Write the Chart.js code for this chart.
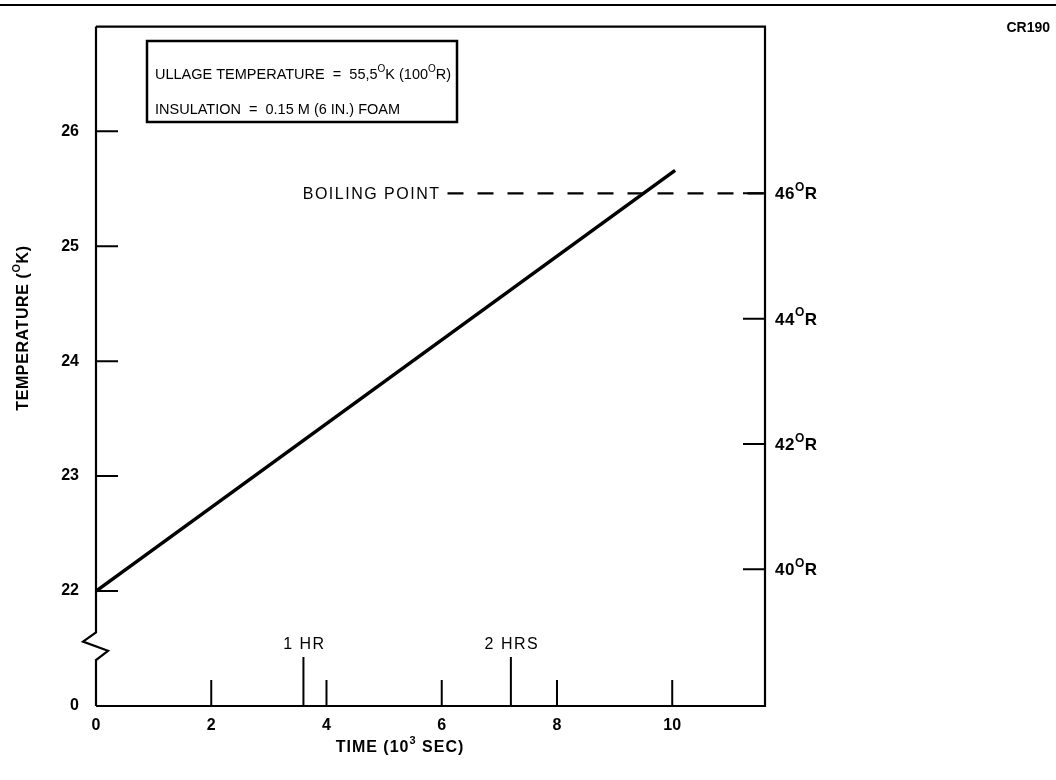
<!DOCTYPE html>
<html>
<head>
<meta charset="utf-8">
<script src="https://cdn.jsdelivr.net/npm/chart.js@4.4.1/dist/chart.umd.min.js"></script>
<style>
html, body { margin: 0; padding: 0; background: #fff; }
</style>
</head>
<body>
<canvas id="canvas" width="1056" height="780"></canvas>
<script>
// data (time in 10^3 sec, temperature in K)
var timeSec = [0, 10.05];
var tempK = [22, 25.66];
// boiling point dashed line, in deg R on the right axis
var boilTime = [6.1, 11.61];
var boilR = [46, 46];

var xTicks = [0, 2, 4, 6, 8, 10];
var yTicks = [21, 22, 23, 24, 25, 26];
var yTickLabels = ["0", "22", "23", "24", "25", "26"];   // axis is broken below 22
var rTicks = [40, 42, 44, 46];
var hourMarks = [3.6, 7.2];
var hourLabels = ["1 HR", "2 HRS"];

var FONT = "'Liberation Sans', Arial, Helvetica, sans-serif";

// draws text with superscript pieces, parts = [[text, isSup], ...]
function richText(ctx, parts, x, y, size, weight, align, spacing){
	var base = weight + " " + size + "px " + FONT;
	var sup = weight + " " + Math.round(size * 0.68) + "px " + FONT;
	ctx.letterSpacing = (spacing || 0) + "px";
	var w = 0;
	for(var i = 0; i < parts.length; i++){
		ctx.font = parts[i][1] ? sup : base;
		w += ctx.measureText(parts[i][0]).width;
	}
	var cx = x;
	if(align == "center"){ cx = x - w / 2; }
	if(align == "right"){ cx = x - w; }
	ctx.textAlign = "left";
	ctx.textBaseline = "alphabetic";
	for(var j = 0; j < parts.length; j++){
		ctx.font = parts[j][1] ? sup : base;
		ctx.fillText(parts[j][0], cx, parts[j][1] ? y - size * 0.5 : y);
		cx += ctx.measureText(parts[j][0]).width;
	}
	ctx.letterSpacing = "0px";
}

var decor = {
	id: "decor",
	afterDraw: function(chart){
		var ctx = chart.ctx;
		var a = chart.chartArea;
		var sx = chart.scales.x, sy = chart.scales.y, sr = chart.scales.y2;
		ctx.save();
		ctx.strokeStyle = "#000";
		ctx.fillStyle = "#000";
		ctx.lineCap = "butt";

		// page rule at the very top
		ctx.lineWidth = 2;
		ctx.beginPath(); ctx.moveTo(0, 5); ctx.lineTo(1056, 5); ctx.stroke();

		// frame: top, right, bottom
		ctx.lineWidth = 2.2;
		ctx.beginPath();
		ctx.moveTo(a.left, a.top); ctx.lineTo(a.right, a.top);
		ctx.lineTo(a.right, a.bottom); ctx.lineTo(a.left, a.bottom);
		ctx.stroke();

		// left axis with the break zigzag
		var L = a.left;
		ctx.beginPath();
		ctx.moveTo(L, a.top);
		ctx.lineTo(L, sy.getPixelForValue(21.64));
		ctx.lineTo(L - 13, sy.getPixelForValue(21.56));
		ctx.lineTo(L + 12, sy.getPixelForValue(21.48));
		ctx.lineTo(L, sy.getPixelForValue(21.40));
		ctx.lineTo(L, a.bottom);
		ctx.stroke();

		// inward tick marks
		ctx.lineWidth = 2;
		ctx.beginPath();
		for(var i = 1; i < yTicks.length; i++){
			var py = sy.getPixelForValue(yTicks[i]);
			ctx.moveTo(L, py); ctx.lineTo(L + 22, py);
		}
		for(var k = 0; k < rTicks.length; k++){
			var pr = sr.getPixelForValue(rTicks[k]);
			ctx.moveTo(a.right, pr); ctx.lineTo(a.right - 22, pr);
		}
		for(var m = 1; m < xTicks.length; m++){
			var px = sx.getPixelForValue(xTicks[m]);
			ctx.moveTo(px, a.bottom); ctx.lineTo(px, a.bottom - 26);
		}
		for(var h = 0; h < hourMarks.length; h++){
			var ph = sx.getPixelForValue(hourMarks[h]);
			ctx.moveTo(ph, a.bottom); ctx.lineTo(ph, a.bottom - 49);
		}
		ctx.stroke();

		// hour labels
		for(var n = 0; n < hourMarks.length; n++){
			richText(ctx, [[hourLabels[n], false]], sx.getPixelForValue(hourMarks[n]) + 1, a.bottom - 57, 16, "normal", "center", 1.5);
		}

		// right axis labels in deg R
		for(var r = 0; r < rTicks.length; r++){
			var yy = sr.getPixelForValue(rTicks[r]) + 6;
			richText(ctx, [[String(rTicks[r]), false], ["O", true], ["R", false]], a.right + 10, yy, 17, "bold", "left", 0.5);
		}

		// boiling point label
		var by = sr.getPixelForValue(boilR[0]);
		richText(ctx, [["BOILING POINT", false]], sx.getPixelForValue(boilTime[0]) - 7, by + 6, 16, "normal", "right", 1.5);

		// annotation box
		ctx.lineWidth = 2.5;
		ctx.strokeRect(147, 41, 310, 81);
		richText(ctx, [["ULLAGE TEMPERATURE  =  55,5", false], ["O", true], ["K (100", false], ["O", true], ["R)", false]], 155, 79, 14.5, "normal", "left", 0);
		richText(ctx, [["INSULATION  =  0.15 M (6 IN.) FOAM", false]], 155, 114, 14.5, "normal", "left", 0);

		// axis titles
		richText(ctx, [["TIME (10", false], ["3", true], [" SEC)", false]], 400, 752, 16, "bold", "center", 1);
		ctx.save();
		ctx.translate(28, 328);
		ctx.rotate(-Math.PI / 2);
		richText(ctx, [["TEMPERATURE (", false], ["O", true], ["K)", false]], 0, 0, 16, "bold", "center", 0.6);
		ctx.restore();

		// figure code
		richText(ctx, [["CR190", false]], 1050, 32, 14, "bold", "right", 0);
		ctx.restore();
	}
};

var lineData = [];
for(var i = 0; i < timeSec.length; i++){ lineData.push({x: timeSec[i], y: tempK[i]}); }
var boilData = [];
for(var j = 0; j < boilTime.length; j++){ boilData.push({x: boilTime[j], y: boilR[j]}); }

var canvas = document.getElementById("canvas");
var ctx = canvas.getContext("2d");
var chart = new Chart(ctx, {
	type: "line",
	data: {
		datasets: [
			{ data: lineData, borderColor: "#000", borderWidth: 3.5, pointRadius: 0, tension: 0, yAxisID: "y" },
			{ data: boilData, borderColor: "#000", borderWidth: 2.2, borderDash: [16, 14], pointRadius: 0, tension: 0, yAxisID: "y2" }
		]
	},
	options: {
		responsive: false,
		animation: false,
		devicePixelRatio: 1,
		layout: { padding: { top: 25, left: 0, right: 0, bottom: 0 } },
		plugins: { legend: { display: false }, tooltip: { enabled: false } },
		scales: {
			x: {
				type: "linear", min: 0, max: 11.61, position: "bottom",
				afterBuildTicks: function(s){ s.ticks = xTicks.map(function(v){ return {value: v}; }); },
				afterFit: function(s){ s.height = 74; },
				grid: { display: false, drawTicks: false },
				border: { display: false },
				ticks: { color: "#000", padding: 10, maxRotation: 0, font: { family: FONT, size: 16, weight: "bold" } }
			},
			y: {
				type: "linear", min: 21, max: 26.91, position: "left",
				afterBuildTicks: function(s){ s.ticks = yTicks.map(function(v){ return {value: v}; }); },
				afterFit: function(s){ s.width = 96; },
				grid: { display: false, drawTicks: false },
				border: { display: false },
				ticks: {
					color: "#000", padding: 17, font: { family: FONT, size: 16, weight: "bold" },
					callback: function(v){ var idx = yTicks.indexOf(v); return idx < 0 ? "" : yTickLabels[idx]; }
				}
			},
			y2: {
				type: "linear", min: 37.82, max: 48.66, position: "right",
				afterFit: function(s){ s.width = 291; },
				grid: { display: false, drawTicks: false },
				border: { display: false },
				ticks: { display: false }
			}
		}
	},
	plugins: [decor]
});
</script>
</body>
</html>
